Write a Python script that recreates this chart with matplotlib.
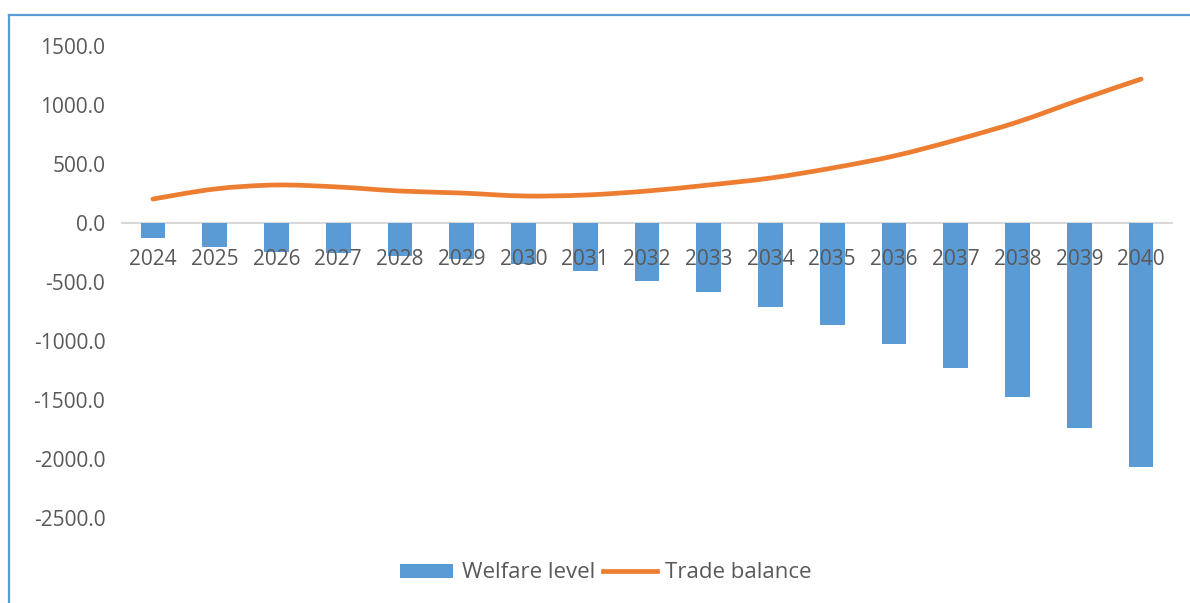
import matplotlib
matplotlib.use("Agg")
import matplotlib.pyplot as plt
from matplotlib.path import Path
from matplotlib.patches import PathPatch
from matplotlib.lines import Line2D
from matplotlib.patches import Patch
import numpy as np

years = [str(y) for y in range(2024, 2041)]
welfare_level = [-127, -203, -245, -255, -280, -305, -348, -407, -492, -585,
                 -712, -865, -1025, -1229, -1475, -1737, -2068]
trade_balance = [203, 288, 322, 305, 271, 254, 229, 237, 271, 322,
                 381, 466, 568, 703, 856, 1042, 1220]
y_ticks = [-2500, -2000, -1500, -1000, -500, 0, 500, 1000, 1500]

BLUE = "#5B9BD5"
ORANGE = "#ED7D31"
GRAY_TXT = "#595959"
FONT = "Open Sans"

W, H = 1190, 603
fig = plt.figure(figsize=(W / 100, H / 100), dpi=100)
ax = fig.add_axes([122 / W, 1 - 518 / H, (1172 - 122) / W, (518 - 46) / H])

for s in ["top", "right", "left"]:
    ax.spines[s].set_visible(False)
ax.spines["bottom"].set_position(("data", 0))
ax.spines["bottom"].set_color("#D9D9D9")
ax.spines["bottom"].set_linewidth(1.5)
ax.spines["bottom"].set_zorder(0.5)

x = np.arange(len(years))
ax.bar(x, welfare_level, width=0.4, color=BLUE, zorder=1)

# smoothed line (Catmull-Rom style bezier through data points, like Excel smoothing)
pts = np.column_stack([x, trade_balance]).astype(float)
verts = [pts[0]]
codes = [Path.MOVETO]
n = len(pts)
for i in range(n - 1):
    p0 = pts[i - 1] if i > 0 else pts[i]
    p1 = pts[i]
    p2 = pts[i + 1]
    p3 = pts[i + 2] if i + 2 < n else pts[i + 1]
    c1 = p1 + (p2 - p0) / 6.0
    c2 = p2 - (p3 - p1) / 6.0
    verts += [c1, c2, p2]
    codes += [Path.CURVE4] * 3
ax.add_patch(PathPatch(Path(verts, codes), facecolor="none", edgecolor=ORANGE,
                       lw=3.4, capstyle="round", joinstyle="round", zorder=3))

ax.set_xlim(-0.5, len(years) - 0.5)
ax.set_ylim(-2500, 1500)
ax.set_yticks(y_ticks)
ax.set_yticklabels([f"{v:.1f}" for v in y_ticks], fontsize=15, color=GRAY_TXT,
                   family=FONT)
ax.set_xticks(x)
ax.set_xticklabels(years, fontsize=15, color=GRAY_TXT, family=FONT)

ax.tick_params(axis="both", length=0)
ax.tick_params(axis="x", pad=19)
ax.tick_params(axis="y", pad=12)

handles = [Patch(facecolor=BLUE, edgecolor="none"),
           Line2D([0], [0], color=ORANGE, lw=3.4)]
fig.legend(handles, ["Welfare level", "Trade balance"], loc="center",
           bbox_to_anchor=(0.5092, 1 - 573 / H),
           ncol=2, frameon=False,
           prop={"family": FONT, "size": 16}, labelcolor=GRAY_TXT,
           handlelength=2.4, handleheight=0.6, handletextpad=0.4,
           columnspacing=0.35)

# blue border (top and left visible in the crop)
fig.add_artist(Line2D([9 / W, 1], [1 - 15 / H, 1 - 15 / H], color=BLUE, lw=1.6,
                      transform=fig.transFigure))
fig.add_artist(Line2D([9 / W, 9 / W], [0, 1 - 15 / H], color=BLUE, lw=1.6,
                      transform=fig.transFigure))

fig.savefig("out.png", dpi=100)
